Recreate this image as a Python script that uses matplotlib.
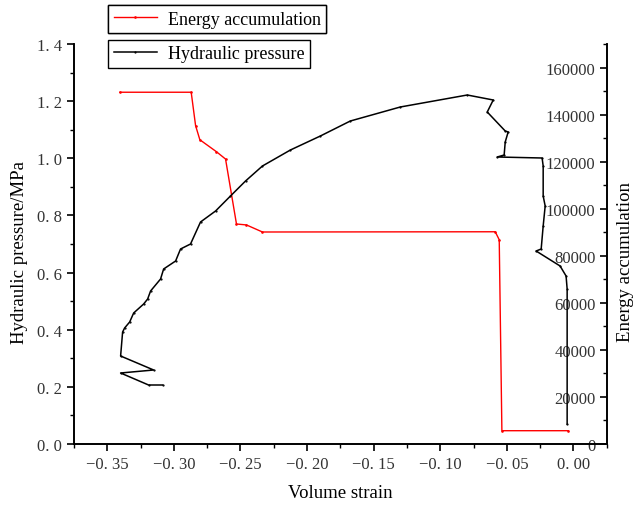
import matplotlib
matplotlib.use("Agg")
import matplotlib.pyplot as plt
from matplotlib.ticker import MultipleLocator, FuncFormatter

# hydraulic pressure (left axis)
strain_p = [-0.3085, -0.3190, -0.3400, -0.3152, -0.3400, -0.3385, -0.3370, -0.3332,
            -0.3302, -0.3227, -0.3197, -0.3175, -0.3100, -0.3077, -0.2987, -0.2950,
            -0.2875, -0.2800, -0.2687, -0.2575, -0.2462, -0.2335, -0.2125, -0.1900,
            -0.1675, -0.1300, -0.0797, -0.0602, -0.0647, -0.0512, -0.0490, -0.0512,
            -0.0520, -0.0572, -0.0235, -0.0227, -0.0227, -0.0212, -0.0227, -0.0242,
            -0.0280, -0.0100, -0.0055, -0.0047, -0.0047]
pressure = [0.2065, 0.2065, 0.2485, 0.2590, 0.3080, 0.3920, 0.4060, 0.4270,
            0.4585, 0.4900, 0.5075, 0.5355, 0.5775, 0.6125, 0.6405, 0.6825,
            0.7000, 0.7770, 0.8155, 0.8680, 0.9205, 0.9730, 1.0290, 1.0780,
            1.1305, 1.1795, 1.2215, 1.2040, 1.1620, 1.0955, 1.0920, 1.0570,
            1.0115, 1.0045, 1.0010, 0.9730, 0.8680, 0.8330, 0.7630, 0.6825,
            0.6755, 0.6230, 0.5880, 0.5425, 0.0700]

# energy accumulation (right axis)
strain_e = [-0.3405, -0.2870, -0.2837, -0.2805, -0.2680, -0.2612, -0.2530, -0.2455,
            -0.2335, -0.0587, -0.0557, -0.0537, -0.0037]
energy = [149500, 149500, 135300, 129300, 124200, 121100, 93500, 93100,
          90100, 90200, 86800, 5650, 5650]

xticks = [-0.35, -0.30, -0.25, -0.20, -0.15, -0.10, -0.05, 0.00]

plt.rcParams['font.family'] = ['Liberation Serif', 'DejaVu Serif']

fig = plt.figure(figsize=(6.33, 5.06), dpi=100)
ax = fig.add_axes([74/633, 1-445/506, (606.7-74)/633, 400/506])
ax2 = ax.twinx()

ax.plot(strain_p, pressure, color='black', lw=1.1, marker='.', ms=1.2,
        label='Hydraulic pressure')
ax2.plot(strain_e, energy, color='red', lw=1.0, marker='.', ms=1.8,
         label='Energy accumulation')

ax.set_xlim(-0.375, 0.025)
ax.set_ylim(0, 1.4)
ax2.set_ylim(0, 170000)

ax.set_xticks(xticks)
ax.xaxis.set_major_formatter(FuncFormatter(lambda v, p: ("%.2f" % v).replace("-", "\u2212").replace(".", ". ")))
ax.xaxis.set_minor_locator(MultipleLocator(0.025))
ax.yaxis.set_major_locator(MultipleLocator(0.2))
ax.yaxis.set_minor_locator(MultipleLocator(0.1))
ax.yaxis.set_major_formatter(FuncFormatter(lambda v, p: ("%.1f" % v).replace(".", ". ")))
ax2.yaxis.set_major_locator(MultipleLocator(20000))
ax2.yaxis.set_minor_locator(MultipleLocator(10000))

for a in (ax, ax2):
    a.spines['top'].set_visible(False)
    for sp in a.spines.values():
        sp.set_linewidth(1.2)

ax.tick_params(axis='both', which='major', direction='out', length=5, width=1.2,
               labelsize=12, colors='black', labelcolor='#333333')
ax.tick_params(axis='both', which='minor', direction='out', length=3, width=1.0)
ax2.tick_params(axis='y', which='major', direction='in', length=5, width=1.2,
                labelsize=12, pad=-8, labelcolor='#333333')
ax2.tick_params(axis='y', which='minor', direction='in', length=3, width=1.0)
for lab in ax2.get_yticklabels():
    lab.set_horizontalalignment('right')

ax.set_xlabel('Volume strain', fontsize=13.5)
ax.xaxis.set_label_coords(0.5, -0.1)
fig.text(20/633, 1-252/506, 'Hydraulic pressure/MPa', fontsize=13.5,
         rotation=90, ha='center', va='center')
fig.text(626/633, 1-262/506, 'Energy accumulation', fontsize=13.5,
         rotation=90, ha='center', va='center')

leg2 = ax2.legend(loc='upper left', bbox_to_anchor=(0.064, 1.097), fontsize=13,
                  frameon=True, fancybox=False, framealpha=1, edgecolor='black',
                  handlelength=2.4, handletextpad=0.6, borderpad=0.3, borderaxespad=0)
leg2.get_frame().set_linewidth(1.0)
leg1 = ax.legend(loc='upper left', bbox_to_anchor=(0.064, 1.01), fontsize=13,
                 frameon=True, fancybox=False, framealpha=1, edgecolor='black',
                 handlelength=2.4, handletextpad=0.6, borderpad=0.3, borderaxespad=0)
leg1.get_frame().set_linewidth(1.0)
ax2.add_artist(leg2)
ax.set_zorder(ax2.get_zorder() + 1)
ax.patch.set_visible(False)

fig.savefig('out.png', dpi=100)
